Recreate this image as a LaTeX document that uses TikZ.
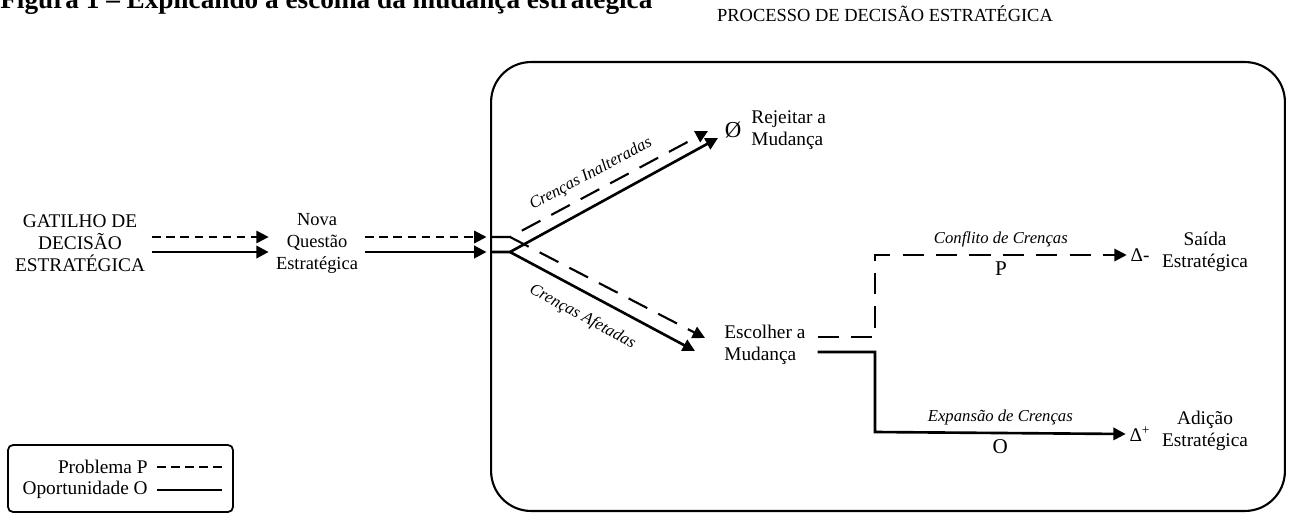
\documentclass[tikz,border=0pt]{standalone}
\usepackage{fontspec}
\setmainfont{Liberation Serif}
\usetikzlibrary{arrows.meta}

\tikzset{
  prob/.style={line width=1.2pt, dash pattern=on 12pt off 7pt},
  probcurto/.style={line width=1.2pt, dash pattern=on 5pt off 3pt},
  oport/.style={line width=1.5pt},
  seta/.style={-{Triangle[length=7pt,width=7pt]}},
  caixa/.style={align=center, inner ysep=0pt, inner xsep=4pt, font=\fontsize{11}{12.5}\selectfont},
  rotulo/.style={font=\fontsize{9.5}{11}\selectfont\itshape, inner sep=2pt},
  letra/.style={font=\fontsize{11}{12}\selectfont, inner sep=2pt},
}

\begin{document}
\begin{tikzpicture}[x=0.02cm,y=-0.02cm]
  \useasboundingbox (0,0) rectangle (1290,514);
  \clip (0,0) rectangle (1290,514);
  % title, cut by the top edge
  \node[anchor=base west, inner sep=0pt, font=\fontsize{15.5}{18}\selectfont\bfseries] (titulo) at (0,8)
    {Figura 1 – Explicando a escolha da mudança estratégica};
  \node[font=\fontsize{10.5}{12}\selectfont] (cabecalho) at (885,14) {PROCESSO DE DECISÃO ESTRATÉGICA};
  \node[draw, line width=1.2pt, rounded corners=0.8cm, minimum width=15.88cm, minimum height=8.98cm] (processo) at (888,286.5) {};

  \node[caixa] (gatilho) at (80,243) {GATILHO DE\\DECISÃO\\ESTRATÉGICA};
  \node[caixa, font=\fontsize{10.5}{12.5}\selectfont] (questao) at (317,243) {Nova\\Questão\\Estratégica};
  \node[letra, font=\fontsize{13}{14}\selectfont] (vazio) at (733,130) {Ø};
  \node[caixa, align=left, anchor=west, inner xsep=0pt] (rejeitar) at (751,130) {Rejeitar a\\Mudança};
  \node[caixa, align=left, anchor=west, inner xsep=0pt] (escolher) at (724,345) {Escolher a\\Mudança};
  \node[letra] (dmenos) at (1140,255) {Δ-};
  \node[caixa, inner xsep=0pt] (saida) at (1205,252) {Saída\\Estratégica};
  \node[letra] (dmais) at (1140,434) {Δ\textsuperscript{+}};
  \node[caixa, inner xsep=0pt] (adicao) at (1205,431) {Adição\\Estratégica};

  \coordinate (bifP) at (510,237);
  \coordinate (bifO) at (510,252);
  \coordinate (rejP) at (708,131);
  \coordinate (rejO) at (718,138);
  \coordinate (escP) at (705,338);
  \coordinate (escO) at (695,351);
  \coordinate (joelhoP) at (875,255);
  \coordinate (joelhoO) at (875,432);

  \begin{scope}[seta]
    \draw[probcurto] (gatilho.east |- bifP) -- (questao.west |- bifP);
    \draw[oport] (gatilho.east |- bifO) -- (questao.west |- bifO);
    \draw[probcurto, shorten >=2pt] (questao.east |- bifP) -- (processo.west |- bifP);
    \draw[oport, shorten >=2pt] (questao.east |- bifO) -- (processo.west |- bifO);
    \draw[prob] (processo.west |- bifP) -- (bifP) -- (rejP)
      node[rotulo, sloped, above=3pt, pos=0.45] {Crenças Inalteradas};
    \draw[oport] (processo.west |- bifO) -- (bifO) -- (rejO);
    \draw[prob] (bifP) -- (escP);
    \draw[oport] (bifO) -- (escO)
      node[rotulo, sloped, below=6pt, pos=0.45] {Crenças Afetadas};
    \draw[prob] (escolher.east) ++(12,-8) -| (joelhoP) -- (dmenos.west)
      node[rotulo, above=2pt, midway] {Conflito de Crenças}
      node[letra, font=\fontsize{12}{13}\selectfont, below=1pt, midway] {P};
    \draw[oport] (escolher.east) ++(12,7) -| (joelhoO) -- (dmais.west)
      node[rotulo, above=2pt, midway] {Expansão de Crenças}
      node[letra, font=\fontsize{12}{13}\selectfont, below=1pt, midway] {O};
  \end{scope}

  % legend
  \draw[line width=1pt, rounded corners=0.1cm] (8,445) rectangle (233,512);
  \node[letra, anchor=east, inner sep=0pt] (problema) at (148,467) {Problema P};
  \node[letra, anchor=east, inner sep=0pt] (oportunidade) at (148,490) {Oportunidade O};
  \draw[probcurto, line width=1pt] (problema.east) ++(9,0) -- ++(65,0);
  \draw[oport, line width=1.3pt] (oportunidade.east) ++(9,0) -- ++(65,0);
\end{tikzpicture}
\end{document}
